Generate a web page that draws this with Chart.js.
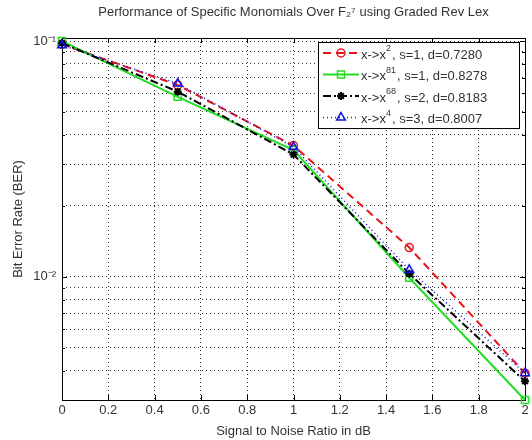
<!DOCTYPE html>
<html><head><meta charset="utf-8">
<script src="https://cdn.jsdelivr.net/npm/chart.js@4.4.1/dist/chart.umd.min.js"></script>
<style>html,body{margin:0;padding:0;background:#fff}#wrap{width:532px;height:440px}</style>
</head><body><div id="wrap"><canvas id="c" width="532" height="440"></canvas></div>
<script>
const snrDb = [0, 0.5, 1, 1.5, 2];
const berX2 = [0.097, 0.065, 0.036, 0.0133, 0.0039];
const berX81 = [0.100, 0.058, 0.0345, 0.0099, 0.0030];
const berX68 = [0.098, 0.061, 0.033, 0.0103, 0.0036];
const berX4 = [0.096, 0.066, 0.0355, 0.0107, 0.0039];
const xTickValues = [0, 0.2, 0.4, 0.6, 0.8, 1, 1.2, 1.4, 1.6, 1.8, 2];
const yGridValues = [0.003, 0.004, 0.005, 0.006, 0.007, 0.008, 0.009, 0.01, 0.02, 0.03, 0.04, 0.05, 0.06, 0.07, 0.08, 0.09, 0.1];
const yMajorValues = [0.01, 0.1];
const yMajorLabels = ['10⁻²', '10⁻¹'];
const legendBase = ['x->x', 'x->x', 'x->x', 'x->x'];
const legendExp = ['2', '81', '68', '4'];
const legendRest = [', s=1, d=0.7280', ', s=1, d=0.8278', ', s=2, d=0.8183', ', s=3, d=0.8007'];
const titleText = 'Performance of Specific Monomials Over F₂⁷ using Graded Rev Lex';
const xTitle = 'Signal to Noise Ratio in dB';
const yTitle = 'Bit Error Rate (BER)';

const FONT = "'Liberation Sans', Arial, sans-serif";
const TXT = '#333';

const toXY = (ys) => snrDb.map((x, i) => ({x: x, y: ys[i]}));

const frameTicks = {
  id: 'frameTicks',
  beforeDatasetsDraw(chart) {
    const {ctx, chartArea: a, scales} = chart;
    ctx.save();
    ctx.strokeStyle = '#000';
    ctx.lineWidth = 1;
    ctx.setLineDash([]);
    ctx.beginPath();
    xTickValues.forEach(v => {
      const px = Math.round(scales.x.getPixelForValue(v)) + 0.5;
      ctx.moveTo(px, a.bottom); ctx.lineTo(px, a.bottom - 5);
      ctx.moveTo(px, a.top); ctx.lineTo(px, a.top + 5);
    });
    yGridValues.forEach(v => {
      const py = Math.round(scales.y.getPixelForValue(v)) + 0.5;
      const len = yMajorValues.includes(v) ? 5 : 3;
      ctx.moveTo(a.left, py); ctx.lineTo(a.left + len, py);
      ctx.moveTo(a.right, py); ctx.lineTo(a.right - len, py);
    });
    ctx.stroke();
    ctx.strokeRect(Math.round(a.left) + 0.5, Math.round(a.top) + 0.5, Math.round(a.right - a.left), Math.round(a.bottom - a.top));
    ctx.restore();
  }
};

const boxLegend = {
  id: 'boxLegend',
  afterDraw(chart) {
    const ctx = chart.ctx;
    const L = 318, T = 42, W = 201, H = 86;
    ctx.save();
    ctx.fillStyle = '#fff';
    ctx.fillRect(L, T, W, H);
    ctx.strokeStyle = '#000';
    ctx.lineWidth = 1;
    ctx.setLineDash([]);
    ctx.strokeRect(L + 0.5, T + 0.5, W, H);
    chart.data.datasets.forEach((ds, i) => {
      const y = T + 11 + i * 21.5;
      ctx.save();
      ctx.strokeStyle = ds.borderColor;
      ctx.lineWidth = ds.borderWidth;
      ctx.setLineDash(ds.borderDash || []);
      ctx.beginPath();
      ctx.moveTo(L + 5, y); ctx.lineTo(L + 41, y);
      ctx.stroke();
      ctx.setLineDash([]);
      ctx.strokeStyle = ds.pointBorderColor;
      ctx.fillStyle = ds.pointBackgroundColor;
      ctx.lineWidth = ds.pointBorderWidth;
      Chart.helpers.drawPoint(ctx, {pointStyle: ds.pointStyle, radius: ds.pointRadius, borderWidth: ds.pointBorderWidth, rotation: 0}, L + 23, y);
      ctx.restore();
      ctx.fillStyle = TXT;
      ctx.textBaseline = 'middle';
      ctx.textAlign = 'left';
      let x = L + 43;
      ctx.font = '13px ' + FONT;
      ctx.fillText(legendBase[i], x, y + 2);
      x += ctx.measureText(legendBase[i]).width;
      ctx.font = '9px ' + FONT;
      ctx.fillText(legendExp[i], x, y - 4);
      x += ctx.measureText(legendExp[i]).width + 1;
      ctx.font = '13px ' + FONT;
      ctx.fillText(legendRest[i], x, y + 2);
    });
    ctx.restore();
  }
};

const common = {fill: false, tension: 0, clip: false, pointHoverRadius: 5};

new Chart(document.getElementById('c'), {
  type: 'line',
  data: {
    datasets: [
      Object.assign({}, common, {label: 'x->x^2', data: toXY(berX2), borderColor: '#e8141b', borderWidth: 2, borderDash: [8, 5],
        pointStyle: 'circle', pointRadius: 4, pointBorderWidth: 1.5, pointBorderColor: '#e8141b', pointBackgroundColor: 'rgba(0,0,0,0)', order: 4}),
      Object.assign({}, common, {label: 'x->x^81', data: toXY(berX81), borderColor: '#22dd22', borderWidth: 2, borderDash: [],
        pointStyle: 'rect', pointRadius: 5, pointBorderWidth: 1.5, pointBorderColor: '#22dd22', pointBackgroundColor: 'rgba(0,0,0,0)', order: 3}),
      Object.assign({}, common, {label: 'x->x^68', data: toXY(berX68), borderColor: '#000000', borderWidth: 2, borderDash: [8, 3, 2, 3],
        pointStyle: 'star', pointRadius: 4, pointBorderWidth: 2, pointBorderColor: '#000000', pointBackgroundColor: '#000000', order: 2}),
      Object.assign({}, common, {label: 'x->x^4', data: toXY(berX4), borderColor: '#1010e0', borderWidth: 1.5, borderDash: [1, 3],
        pointStyle: 'triangle', pointRadius: 5, pointBorderWidth: 1.5, pointBorderColor: '#1010e0', pointBackgroundColor: 'rgba(0,0,0,0)', order: 1})
    ]
  },
  options: {
    responsive: false,
    animation: false,
    devicePixelRatio: 1,
    layout: {padding: {left: 0, right: 7, top: 0, bottom: 0}},
    plugins: {
      legend: {display: false},
      tooltip: {enabled: false},
      title: {display: true, text: titleText, fullSize: false, color: TXT,
        font: {family: FONT, size: 13, weight: 'normal'}, padding: {top: 5, bottom: 17.4}}
    },
    scales: {
      x: {
        type: 'linear', min: 0, max: 2,
        afterBuildTicks: (s) => { s.ticks = xTickValues.map(v => ({value: v})); },
        afterFit: (s) => { s.height = 40; },
        ticks: {color: TXT, font: {family: FONT, size: 13}, padding: 3, maxRotation: 0, autoSkip: false,
          callback: (v) => String(v)},
        grid: {drawTicks: false, color: 'rgba(0,0,0,0.8)', lineWidth: 1},
        border: {display: false, dash: [1, 3]},
        title: {display: true, text: xTitle, color: TXT, font: {family: FONT, size: 13}, padding: {top: 0, bottom: 1.2}}
      },
      y: {
        type: 'logarithmic', min: 0.003, max: 0.103,
        afterBuildTicks: (s) => { s.ticks = yGridValues.map(v => ({value: v})); },
        afterFit: (s) => { s.width = 62; },
        ticks: {color: TXT, font: {family: FONT, size: 13}, padding: 6, autoSkip: false,
          callback: (v) => { const k = yMajorValues.indexOf(v); return k >= 0 ? yMajorLabels[k] : ''; }},
        grid: {drawTicks: false, color: 'rgba(0,0,0,0.8)', lineWidth: 1},
        border: {display: false, dash: [1, 3]},
        title: {display: true, text: yTitle, color: TXT, font: {family: FONT, size: 13}, padding: {top: 11, bottom: 0}}
      }
    }
  },
  plugins: [frameTicks, boxLegend]
});
</script>
</body></html>
